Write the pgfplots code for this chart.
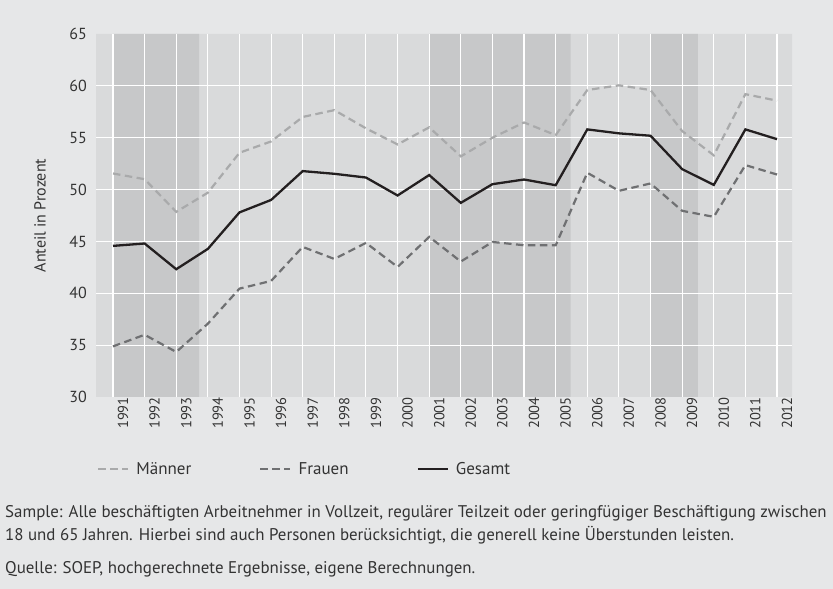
\documentclass[border=0pt]{standalone}
\usepackage{fontspec}
\setmainfont{PT Sans}
\usepackage{pgfplots}
\pgfplotsset{compat=1.18}
\definecolor{bgc}{HTML}{E6E7E8}
\definecolor{plotbg}{HTML}{D9DADB}
\definecolor{shade}{HTML}{C7C8C9}
\definecolor{cmen}{HTML}{A9AAAB}
\definecolor{cwomen}{HTML}{6F7072}
\definecolor{ctotal}{HTML}{231F20}
\definecolor{txt}{HTML}{333333}

\pgfplotstableread{
year men women total
1991 51.55 34.88 44.57
1992 51.00 36.00 44.80
1993 47.85 34.34 42.32
1994 49.70 37.07 44.28
1995 53.55 40.45 47.80
1996 54.64 41.19 49.00
1997 57.00 44.47 51.78
1998 57.66 43.31 51.52
1999 55.90 44.86 51.16
2000 54.35 42.54 49.43
2001 56.00 45.44 51.40
2002 53.20 43.06 48.72
2003 55.00 44.95 50.52
2004 56.47 44.63 50.97
2005 55.25 44.63 50.42
2006 59.60 51.62 55.80
2007 60.05 49.88 55.42
2008 59.60 50.59 55.19
2009 55.64 47.95 51.97
2010 53.30 47.37 50.45
2011 59.20 52.36 55.80
2012 58.57 51.45 54.86
}\datatable

\pgfplotsset{base/.style={
  at={(96bp,192bp)}, anchor=south west,
  width=696bp, height=363bp, scale only axis,
  xmin=1990.462, xmax=2012.474, ymin=30, ymax=65,
  axis line style={draw=none},
  tick style={draw=none},
}}

\begin{document}
\begin{tikzpicture}
\fill[bgc] (0bp,0bp) rectangle (833bp,589bp);
% background bands
\begin{axis}[base, xtick=\empty, ytick=\empty]
\addplot[fill=plotbg, draw=none] coordinates {(1990.462,30) (2012.474,30) (2012.474,65) (1990.462,65) (1990.462,30)};
\addplot[fill=shade, draw=none] coordinates {(1991,30) (1993.72,30) (1993.72,65) (1991,65) (1991,30)};
\addplot[fill=shade, draw=none] coordinates {(2001,30) (2005.47,30) (2005.47,65) (2001,65) (2001,30)};
\addplot[fill=shade, draw=none] coordinates {(2008,30) (2009.5,30) (2009.5,65) (2008,65) (2008,30)};
\end{axis}
% grid, labels, data
\begin{axis}[base,
  xtick={1991,...,2012},
  ytick={35,40,...,60},
  extra y ticks={30,65},
  extra y tick style={grid=none},
  /pgf/number format/assume math mode=true,
  /pgf/number format/1000 sep={},
  grid=major,
  grid style={white, line width=1.1bp},
  yticklabel style={anchor=east, inner sep=0pt, xshift=-9bp, font=\fontsize{16bp}{18bp}\selectfont, text=txt},
  xticklabel style={rotate=90, anchor=east, inner sep=0pt, yshift=-10bp, font=\fontsize{14.5bp}{16bp}\selectfont, text=txt},
  ylabel={Anteil in Prozent},
  ylabel style={at={(axis description cs:-0.0805,0.5)}, anchor=center, font=\fontsize{16bp}{18bp}\selectfont, text=txt},
  legend columns=3,
  legend style={at={(axis description cs:0.0015,-0.198)}, anchor=west, draw=none, fill=none, inner sep=0pt,
    font=\fontsize{17bp}{19bp}\selectfont, text=txt,
    /tikz/every odd column/.append style={column sep=5bp},
    /tikz/every even column/.append style={column sep=66bp}},
  legend image code/.code={\draw[#1] (0bp,0bp) -- (30bp,0bp);},
]
\addplot[cmen, line width=2.2bp, dash pattern=on 7.5bp off 4.5bp] table[x=year, y=men] {\datatable};
\addlegendentry{Männer}
\addplot[cwomen, line width=2.2bp, dash pattern=on 7.5bp off 4.5bp] table[x=year, y=women] {\datatable};
\addlegendentry{Frauen}
\addplot[ctotal, line width=2.3bp] table[x=year, y=total] {\datatable};
\addlegendentry{Gesamt}
\end{axis}
\begin{scope}[every node/.style={anchor=base west, inner sep=0pt, text=txt, font=\fontsize{16.9bp}{18bp}\selectfont}]
\node at (5bp,71bp) {Sample: Alle beschäftigten Arbeitnehmer in Vollzeit, regulärer Teilzeit oder geringfügiger Beschäftigung zwischen};
\node at (5bp,48bp) {18 und 65 Jahren. Hierbei sind auch Personen berücksichtigt, die generell keine Überstunden leisten.};
\node at (5bp,16bp) {Quelle: SOEP, hochgerechnete Ergebnisse, eigene Berechnungen.};
\end{scope}
\end{tikzpicture}
\end{document}
